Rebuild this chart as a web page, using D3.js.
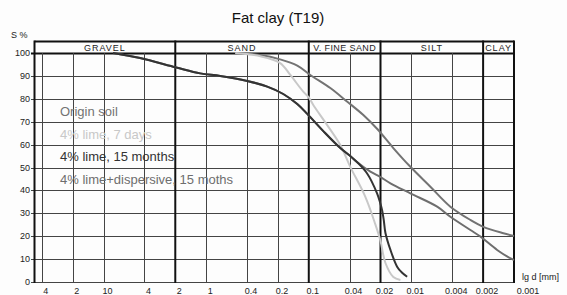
<!DOCTYPE html>
<html>
<head>
<meta charset="utf-8">
<script src="https://cdn.jsdelivr.net/npm/d3@7"></script>
<style>
body { margin: 0; background: #fff; }
svg { font-family: "Liberation Sans", Arial, sans-serif; }
</style>
</head>
<body>
<script>
// grain size (mm) vs passing S %
var originSoil = [[0.521,100],[0.297,99.1],[0.190,97.2],[0.1295,94.5],[0.0967,90.4],[0.0617,84.7],
    [0.0421,78.7],[0.0294,72.9],[0.0215,66.8],[0.0150,58.5],[0.01023,50.3],[0.00653,41.6],
    [0.00417,32.9],[0.00266,27.1],[0.00199,24.1],[0.00127,21.3],[0.001,20.1]];

var lime7days = [[0.521,100],[0.297,98.6],[0.190,95.6],[0.1514,90.4],[0.1132,83.1],[0.1,80.6],
    [0.0904,77.3],[0.0664,68.6],[0.0493,59.8],[0.0394,50.3],[0.0281,37.2],[0.0225,25.3],
    [0.0201,18.3],[0.0179,8.3],[0.0150,2.2],[0.0128,0.9]];

var lime15months = [[8.08,100],[4.40,97.8],[1.96,93.7],[1.144,91.1],[0.730,90.0],[0.398,87.8],
    [0.254,85.3],[0.1774,82.1],[0.1295,77.7],[0.1035,73.4],[0.0722,65.9],[0.0493,58.5],
    [0.0394,55.0],[0.0339,52.4],[0.0271,47.5],[0.0216,38.7],[0.0201,34.4],[0.0193,31.4],
    [0.0186,27.1],[0.0179,21.4],[0.0160,14.0],[0.01378,6.7],[0.01253,4.4],[0.0110,2.3]];

var limeDispersive = [[8.08,100],[4.40,97.8],[1.96,93.7],[1.144,91.1],[0.730,90.0],[0.398,87.8],
    [0.254,85.3],[0.1774,82.1],[0.1295,77.7],[0.1035,73.4],[0.0722,65.9],[0.0493,58.5],
    [0.0394,55.0],[0.0339,52.4],[0.0251,48.2],[0.0201,45.9],[0.0160,43.1],[0.01023,38.7],
    [0.00561,32.9],[0.00417,28.5],[0.00266,22.7],[0.00212,19.8],[0.00146,14.0],[0.00108,10.3],
    [0.001,9.6]];

var seriesNames = ["Origin soil", "4% lime, 7 days", "4% lime, 15 months", "4% lime+dispersive, 15 moths"];
var seriesColors = ["#737373", "#c8c8c8", "#333333", "#6e6e6e"];

var xTicks = [40, 20, 10, 4, 2, 1, 0.4, 0.2, 0.1, 0.04, 0.02, 0.01, 0.004, 0.002, 0.001];
var xTickLabels = ["4", "2", "10", "4", "2", "1", "0.4", "0.2", "0.1", "0.04", "0.02", "0.01", "0.004", "0.002", "0.001"];
var yTicks = d3.range(0, 101, 10);

var zoneNames = ["GRAVEL", "SAND", "V. FINE SAND", "SILT", "CLAY"];
var zoneBounds = [47.1, 2, 0.1, 0.02, 0.002, 0.001];

var width = 567,
    height = 295;

var x = d3.scaleLog()
    .domain([47.1, 0.001])
    .range([34.5, 514]);

var y = d3.scaleLinear()
    .domain([0, 100])
    .range([282, 53]);

var headTop = 41.5;

var svg = d3.select("body").append("svg")
    .attr("width", width)
    .attr("height", height);

svg.append("rect").attr("width", width).attr("height", height).attr("fill", "#fdfdfd");

function px(v) { return Math.round(v) + 0.5; }

// title
svg.append("text")
    .attr("x", 278).attr("y", 23)
    .attr("text-anchor", "middle")
    .attr("font-size", 15)
    .attr("fill", "#111")
    .text("Fat clay (T19)");

svg.append("text")
    .attr("x", 11).attr("y", 38)
    .attr("font-size", 9)
    .attr("fill", "#222")
    .text("S %");

// horizontal grid
svg.selectAll(".hgrid")
    .data(yTicks)
    .enter().append("line")
    .attr("class", "hgrid")
    .attr("x1", 31).attr("x2", x.range()[1])
    .attr("y1", function (d) { return px(y(d)); })
    .attr("y2", function (d) { return px(y(d)); })
    .attr("stroke", function (d) { return d == 100 ? "#111" : "#444"; })
    .attr("stroke-width", function (d) { return d == 100 ? 2 : 1; });

svg.selectAll(".ylab")
    .data(yTicks)
    .enter().append("text")
    .attr("class", "ylab")
    .attr("x", 30).attr("y", function (d) { return y(d) + 3; })
    .attr("text-anchor", "end")
    .attr("font-size", 9)
    .attr("fill", "#222")
    .text(function (d) { return d; });

// thin verticals
var thin = xTicks.filter(function (d) { return zoneBounds.indexOf(d) < 0; });
svg.selectAll(".vgrid")
    .data(thin)
    .enter().append("line")
    .attr("class", "vgrid")
    .attr("x1", function (d) { return px(x(d)); })
    .attr("x2", function (d) { return px(x(d)); })
    .attr("y1", y(100)).attr("y2", y(0) + 1)
    .attr("stroke", "#444");

// zone borders + header
svg.append("line")
    .attr("x1", x.range()[0]).attr("x2", x.range()[1])
    .attr("y1", headTop).attr("y2", headTop)
    .attr("stroke", "#111").attr("stroke-width", 2);

svg.selectAll(".zline")
    .data(zoneBounds)
    .enter().append("line")
    .attr("class", "zline")
    .attr("x1", function (d) { return x(d); })
    .attr("x2", function (d) { return x(d); })
    .attr("y1", headTop - 1).attr("y2", y(0) + 1)
    .attr("stroke", "#111").attr("stroke-width", 2);

svg.selectAll(".zname")
    .data(zoneNames)
    .enter().append("text")
    .attr("class", "zname")
    .attr("x", function (d, i) { return (x(zoneBounds[i]) + x(zoneBounds[i + 1])) / 2; })
    .attr("y", 50.5)
    .attr("text-anchor", "middle")
    .attr("font-size", 9)
    .attr("letter-spacing", function (d) { return d.length > 6 ? 0.4 : 1; })
    .attr("fill", "#222")
    .text(function (d) { return d; });

// x tick labels
svg.selectAll(".xlab")
    .data(xTicks)
    .enter().append("text")
    .attr("class", "xlab")
    .attr("x", function (d, i) { return x(d) + (i == xTicks.length - 1 ? 14 : 4); })
    .attr("y", 294)
    .attr("text-anchor", "middle")
    .attr("font-size", 9)
    .attr("fill", "#222")
    .text(function (d, i) { return xTickLabels[i]; });

svg.append("text")
    .attr("x", 522).attr("y", 280)
    .attr("font-size", 9)
    .attr("fill", "#222")
    .text("lg d [mm]");

// curves
var line = d3.line()
    .x(function (d) { return x(d[0]); })
    .y(function (d) { return y(d[1]); })
    .curve(d3.curveCatmullRom.alpha(0.5));

var allSeries = [originSoil, lime7days, limeDispersive, lime15months];
var allColors = [seriesColors[0], seriesColors[1], seriesColors[3], seriesColors[2]];

svg.selectAll(".curve")
    .data(allSeries)
    .enter().append("path")
    .attr("class", "curve")
    .attr("d", line)
    .attr("fill", "none")
    .attr("stroke", function (d, i) { return allColors[i]; })
    .attr("stroke-width", 2);

// legend
svg.selectAll(".leg")
    .data(seriesNames)
    .enter().append("text")
    .attr("class", "leg")
    .attr("x", 60)
    .attr("y", function (d, i) { return 116 + i * 22.5; })
    .attr("font-size", 13)
    .attr("fill", function (d, i) { return seriesColors[i]; })
    .text(function (d) { return d; });
</script>
</body>
</html>
